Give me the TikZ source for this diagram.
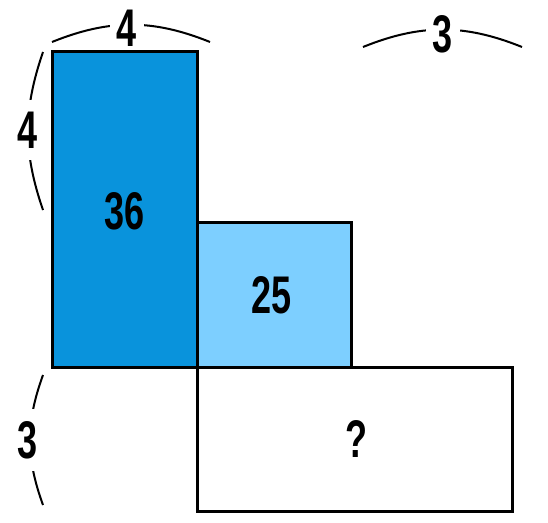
\documentclass[tikz,border=0pt]{standalone}
\usepackage{fontspec}
\setmainfont{Liberation Sans}
\definecolor{darkblue}{RGB}{9,147,220}
\definecolor{lightblue}{RGB}{125,207,255}
\newcommand{\numtxt}[1]{\scalebox{0.68}[1]{\fontsize{53}{60}\selectfont\bfseries #1}}
\begin{document}
\begin{tikzpicture}[x=1pt,y=-1pt,
  box/.style={draw=black, line width=3pt, inner sep=0pt, outer sep=0pt, anchor=north west},
  brace/.style={draw=black, line width=2pt},
  lbl/.style={fill=white, inner xsep=7pt, inner ysep=12pt},
  inlbl/.style={inner sep=0pt}]
\useasboundingbox (0,0) rectangle (548,522);
% braces
\coordinate (ta) at (52,42); \coordinate (tb) at (210,42);
\coordinate (ra) at (363,47); \coordinate (rb) at (522,47);
\coordinate (la) at (43,52); \coordinate (lb) at (43,210);
\coordinate (ma) at (43,375); \coordinate (mb) at (43,505);
\draw[brace] (ta) to[bend left=22] (tb);
\draw[brace] (ra) to[bend left=22] (rb);
\draw[brace] (la) to[bend right=19] (lb);
\draw[brace] (ma) to[bend right=20] (mb);
\node[lbl] (ltop) at (127,28) {\numtxt{4}};
\node[lbl] (rtop) at (443,34) {\numtxt{3}};
\node[lbl] (lleft) at (28,130) {\numtxt{4}};
\node[lbl] (lbot) at (28,440) {\numtxt{3}};
% rectangles
\node[box, fill=darkblue, minimum width=145pt, minimum height=316pt] (A) at (52,51) {};
\node[box, fill=lightblue, minimum width=154pt, minimum height=145pt] (B) at (197,222) {};
\node[box, fill=white, minimum width=315pt, minimum height=144pt] (C) at (197,367) {};
\node[inlbl] (tA) at (125,211) {\numtxt{36}};
\node[inlbl] (tB) at (272,295) {\numtxt{25}};
\node[inlbl] (tC) at (357,439) {\numtxt{?}};
\end{tikzpicture}
\end{document}
